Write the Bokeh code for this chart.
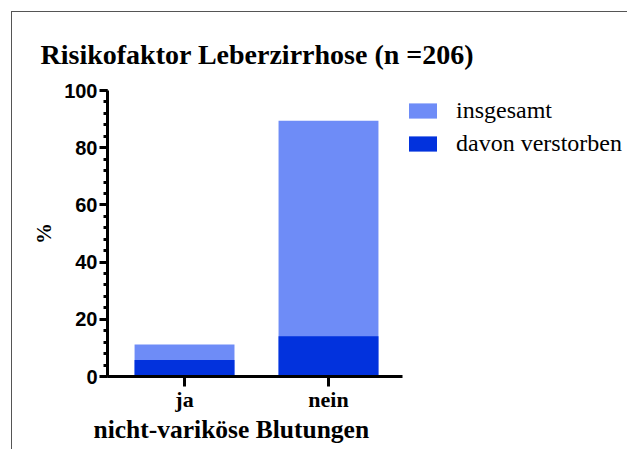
from bokeh.plotting import figure
from bokeh.models import FixedTicker, SingleIntervalTicker, Legend, LegendItem, Range1d, Title
from bokeh.embed import file_html
from bokeh.resources import INLINE

categories = ["ja", "nein"]
insgesamt = [11.2, 89.4]
verstorben = [5.8, 14.1]
series_labels = ["insgesamt", "davon verstorben"]
title_text = "Risikofaktor Leberzirrhose (n =206)"
x_title = "nicht-variköse Blutungen"
y_title = "%"

SERIF = "Liberation Serif"
SANS = "Liberation Sans"
LIGHT = "#6E8CF7"
DARK = "#0232DD"

xs = list(range(len(categories)))

p = figure(frame_width=295, frame_height=286, output_backend="svg", toolbar_location=None,
           x_range=Range1d(-0.535, 1.514), y_range=Range1d(0, 100),
           min_border_left=95, min_border_right=200, min_border_top=78,
           min_border_bottom=73)
p.styles = {"border-left": "1px solid #555555", "border-top": "1px solid #555555",
            "margin-left": "11px", "margin-top": "11px"}
p.grid.visible = False
p.outline_line_color = None
p.background_fill_color = "white"
p.border_fill_color = "white"

r1 = p.vbar(x=xs, top=insgesamt, width=0.694, fill_color=LIGHT, line_color=None)
r2 = p.vbar(x=xs, top=verstorben, width=0.694, fill_color=DARK, line_color=None)

# y axis
ya = p.yaxis[0]
ya.ticker = SingleIntervalTicker(interval=20, num_minor_ticks=5)
ya.axis_line_width = 3
ya.major_tick_line_width = 3
ya.minor_tick_line_width = 3
ya.major_tick_out = 8
ya.major_tick_in = 0
ya.minor_tick_out = 4
ya.minor_tick_in = 0
ya.major_label_text_font = SANS
ya.major_label_text_font_style = "bold"
ya.major_label_text_font_size = "20px"
ya.major_label_text_color = "black"
ya.major_label_standoff = 2
ya.axis_label = y_title
ya.axis_label_text_font = SERIF
ya.axis_label_text_font_style = "bold"
ya.axis_label_text_font_size = "21px"
ya.axis_label_text_color = "black"
ya.axis_label_standoff = 5

# x axis
xa = p.xaxis[0]
xa.ticker = FixedTicker(ticks=xs)
xa.major_label_overrides = {i: c for i, c in zip(xs, categories)}
xa.axis_line_width = 3
xa.major_tick_line_width = 3
xa.major_tick_out = 10
xa.major_tick_in = 0
xa.minor_tick_line_color = None
xa.major_label_text_font = SERIF
xa.major_label_text_font_style = "bold"
xa.major_label_text_font_size = "22px"
xa.major_label_text_color = "black"
xa.major_label_standoff = 0

# x axis title (left-shifted like the reference)
xt = Title(text=x_title, align="left", offset=-14, standoff=-3,
           text_font=SERIF, text_font_style="bold", text_font_size="25.5px",
           text_color="black")
p.add_layout(xt, "below")

# title
p.title.text = title_text
p.title.text_font = SERIF
p.title.text_font_style = "bold"
p.title.text_font_size = "28px"
p.title.text_color = "black"
p.title.align = "left"
p.title.offset = -67
p.title.standoff = 42

legend = Legend(items=[LegendItem(label=series_labels[0], renderers=[r1]),
                       LegendItem(label=series_labels[1], renderers=[r2])],
                location="top_left", border_line_color=None,
                background_fill_alpha=0,
                title=" ", title_text_font_size="2px", title_standoff=2,
                glyph_width=35, glyph_height=19, label_height=19,
                label_text_font=SERIF, label_text_font_size="24px",
                label_text_color="black",
                label_standoff=16, spacing=6, padding=0, margin=3)
p.add_layout(legend, "right")

open("out.html", "w").write(file_html(p, INLINE))
